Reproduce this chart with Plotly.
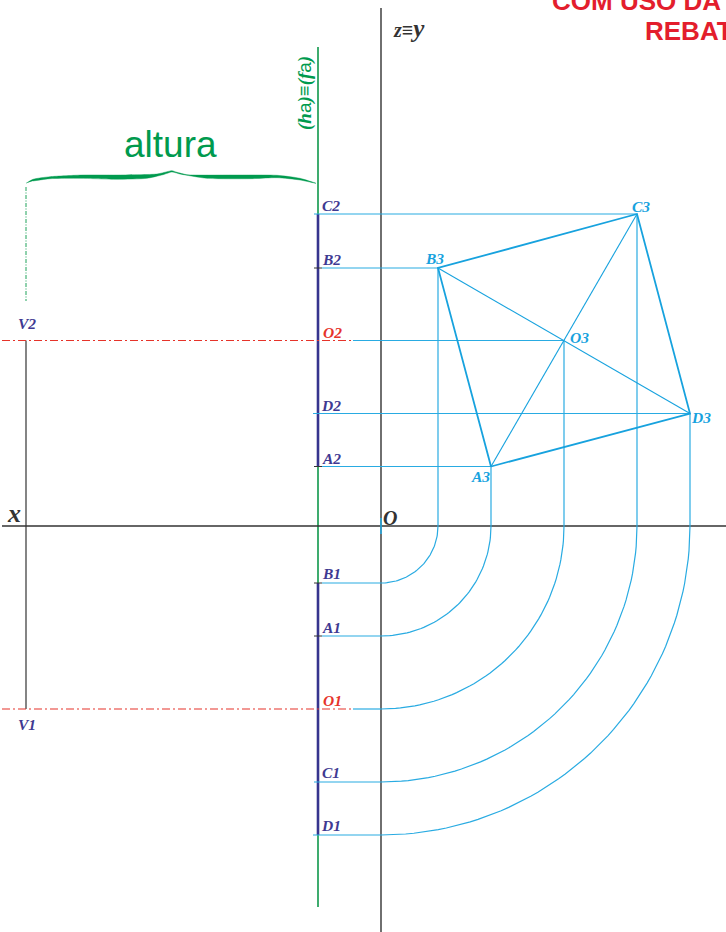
import numpy as np
import plotly.graph_objects as go

point_names = ["A", "B", "C", "D", "O"]
depths = [110, 57, 256, 309, 183]      # rotated distance from the x axis
heights = [59.5, 258, 312, 112.5, 185.5]  # height above the x axis
front_start = [-59, -59, -67, -68, -28]   # left end of the horizontal recall lines
hinge_x = -63
v_x = -355
hinge_top = 479
hinge_bottom = -381
axis_left = -379
axis_z_top = 518
axis_z_bottom = -406
altura_guide = [339, 225]
brace_upper_x = [-355, -348, -331, -298, -264, -224, -214, -209, -204, -194, -148, -104, -81, -65]
brace_upper_y = [342.7, 346.7, 349.3, 351, 351, 352, 354.3, 355.3, 353.7, 351.3, 351, 350.7, 347.7, 342.7]
brace_lower_x = [-81, -104, -131, -174, -201, -209, -218, -234, -264, -301, -331, -348]
brace_lower_y = [346, 348.3, 347.3, 347.7, 352, 354, 351.3, 347.7, 346.7, 347.7, 347.3, 345]

CYAN = "#29abe2"
CYAN_DARK = "#17a2de"
NAVY = "#36348e"
GREEN = "#2aa35f"
BRIGHT_GREEN = "#009a4e"
RED = "#e6332a"
INK = "#333333"
MAUVE = "#3f3a92"

d = dict(zip(point_names, depths))
h = dict(zip(point_names, heights))
start = dict(zip(point_names, front_start))

fig = go.Figure()


def line(xs, ys, color, width, dash="solid"):
    fig.add_trace(go.Scatter(x=xs, y=ys, mode="lines", hoverinfo="skip", showlegend=False,
                             line=dict(color=color, width=width, dash=dash)))


# hinge line: green, then navy over the projected height of the figure
line([hinge_x, hinge_x], [hinge_top, hinge_bottom], GREEN, 1.8)
line([hinge_x, hinge_x], [h["C"], h["A"]], NAVY, 2.6)
line([hinge_x, hinge_x], [-d["B"], -d["D"]], NAVY, 2.6)

# axes
line([axis_left, 345], [0, 0], INK, 1.4)
line([0, 0], [axis_z_top, axis_z_bottom], INK, 1.4)

# small ticks
for name in ["A", "B"]:
    line([-67, -59], [h[name], h[name]], INK, 1)
    line([-67, -59], [-d[name], -d[name]], INK, 1)

# recall lines and folding arcs
for name in point_names:
    r = d[name]
    theta = np.linspace(0, np.pi / 2, 60)
    line([start[name], r], [h[name], h[name]], CYAN, 1.2)
    line([r, r], [h[name], 0], CYAN, 1.2)
    line(r * np.cos(theta), -r * np.sin(theta), CYAN, 1.2)
    line([start[name], 0], [-r, -r], CYAN, 1.2)
line([0, 0], [8, -8], CYAN, 1.6)

# rotated square
order = ["A", "B", "C", "D", "A"]
line([d[n] for n in order], [h[n] for n in order], CYAN_DARK, 1.8)
line([d["A"], d["C"]], [h["A"], h["C"]], CYAN_DARK, 1.1)
line([d["B"], d["D"]], [h["B"], h["D"]], CYAN_DARK, 1.1)

# vertex line and dash-dot lines
line([v_x, v_x], [h["O"], -d["O"]], INK, 1.2)
line([axis_left, -28], [h["O"], h["O"]], RED, 1.1, "8px,3px,2px,3px")
line([axis_left, -28], [-d["O"], -d["O"]], RED, 1.1, "8px,3px,2px,3px")
line([v_x, v_x], altura_guide, "#1fa35a", 1, "4px,1.5px,1px,1.5px")

# brace
fig.add_trace(go.Scatter(x=brace_upper_x + brace_lower_x, y=brace_upper_y + brace_lower_y,
                         mode="lines", fill="toself", fillcolor=BRIGHT_GREEN,
                         line=dict(color=BRIGHT_GREEN, width=0.4, shape="spline", smoothing=0.6),
                         hoverinfo="skip", showlegend=False))

SERIF = "Liberation Serif"
labels = [
    ("C2", -50, 321, MAUVE, 15.5), ("B2", -50, 267, MAUVE, 15.5), ("O2", -49, 194, RED, 15.5),
    ("D2", -50, 121, MAUVE, 15.5), ("A2", -50, 68, MAUVE, 15.5),
    ("C3", 260, 320, CYAN_DARK, 15.5), ("B3", 53, 268, CYAN_DARK, 15.5), ("O3", 198, 189, CYAN_DARK, 15.5),
    ("D3", 320, 109, CYAN_DARK, 15.5), ("A3", 99, 50, CYAN_DARK, 15.5),
    ("V2", -354, 203, MAUVE, 15.5), ("V1", -354, -198, MAUVE, 15.5),
    ("B1", -50, -47, MAUVE, 15.5), ("A1", -50, -101, MAUVE, 15.5), ("O1", -49, -174, RED, 15.5),
    ("C1", -50, -246, MAUVE, 15.5), ("D1", -50, -299, MAUVE, 15.5),
    ("x", -367, 13, INK, 26), ("O", 9, 8, INK, 20),
]
annotations = []
for text, x, y, color, size in labels:
    annotations.append(dict(x=x, y=y, text=f"<b><i>{text}</i></b>", showarrow=False,
                            font=dict(family=SERIF, size=size, color=color)))
annotations += [
    dict(x=28, y=498, showarrow=False, font=dict(family=SERIF, size=20, color=INK),
         text='<b><i>z≡<span style="font-size:25px">y</span></i></b>'),
    dict(x=-211, y=382, text="altura", showarrow=False,
         font=dict(family="Liberation Sans", size=37, color=BRIGHT_GREEN)),
    dict(x=-76, y=433, text='<b><i>(h</i></b><span style="font-family:Liberation Sans">a</span><b><i>)≡(f</i></b><span style="font-family:Liberation Sans">a</span><b><i>)</i></b>',
         textangle=-90, showarrow=False,
         font=dict(family="Liberation Serif", size=19, color=BRIGHT_GREEN)),
    dict(x=169, y=525, xanchor="left", text="<b>COM USO DA</b>", showarrow=False,
         font=dict(family="Liberation Sans", size=26, color="#e31e2d")),
    dict(x=262, y=495.5, xanchor="left", text="<b>REBAT</b>", showarrow=False,
         font=dict(family="Liberation Sans", size=26, color="#e31e2d")),
]

fig.update_layout(
    width=726, height=932, margin=dict(l=0, r=0, t=0, b=0),
    paper_bgcolor="white", plot_bgcolor="white", showlegend=False, annotations=annotations,
    xaxis=dict(range=[-381, 345], visible=False, fixedrange=True),
    yaxis=dict(range=[-406, 526], visible=False, fixedrange=True),
)
fig.write_html("out.html", config=dict(displayModeBar=False),
               post_script="document.body.style.margin='0';document.body.style.overflow='hidden';")
